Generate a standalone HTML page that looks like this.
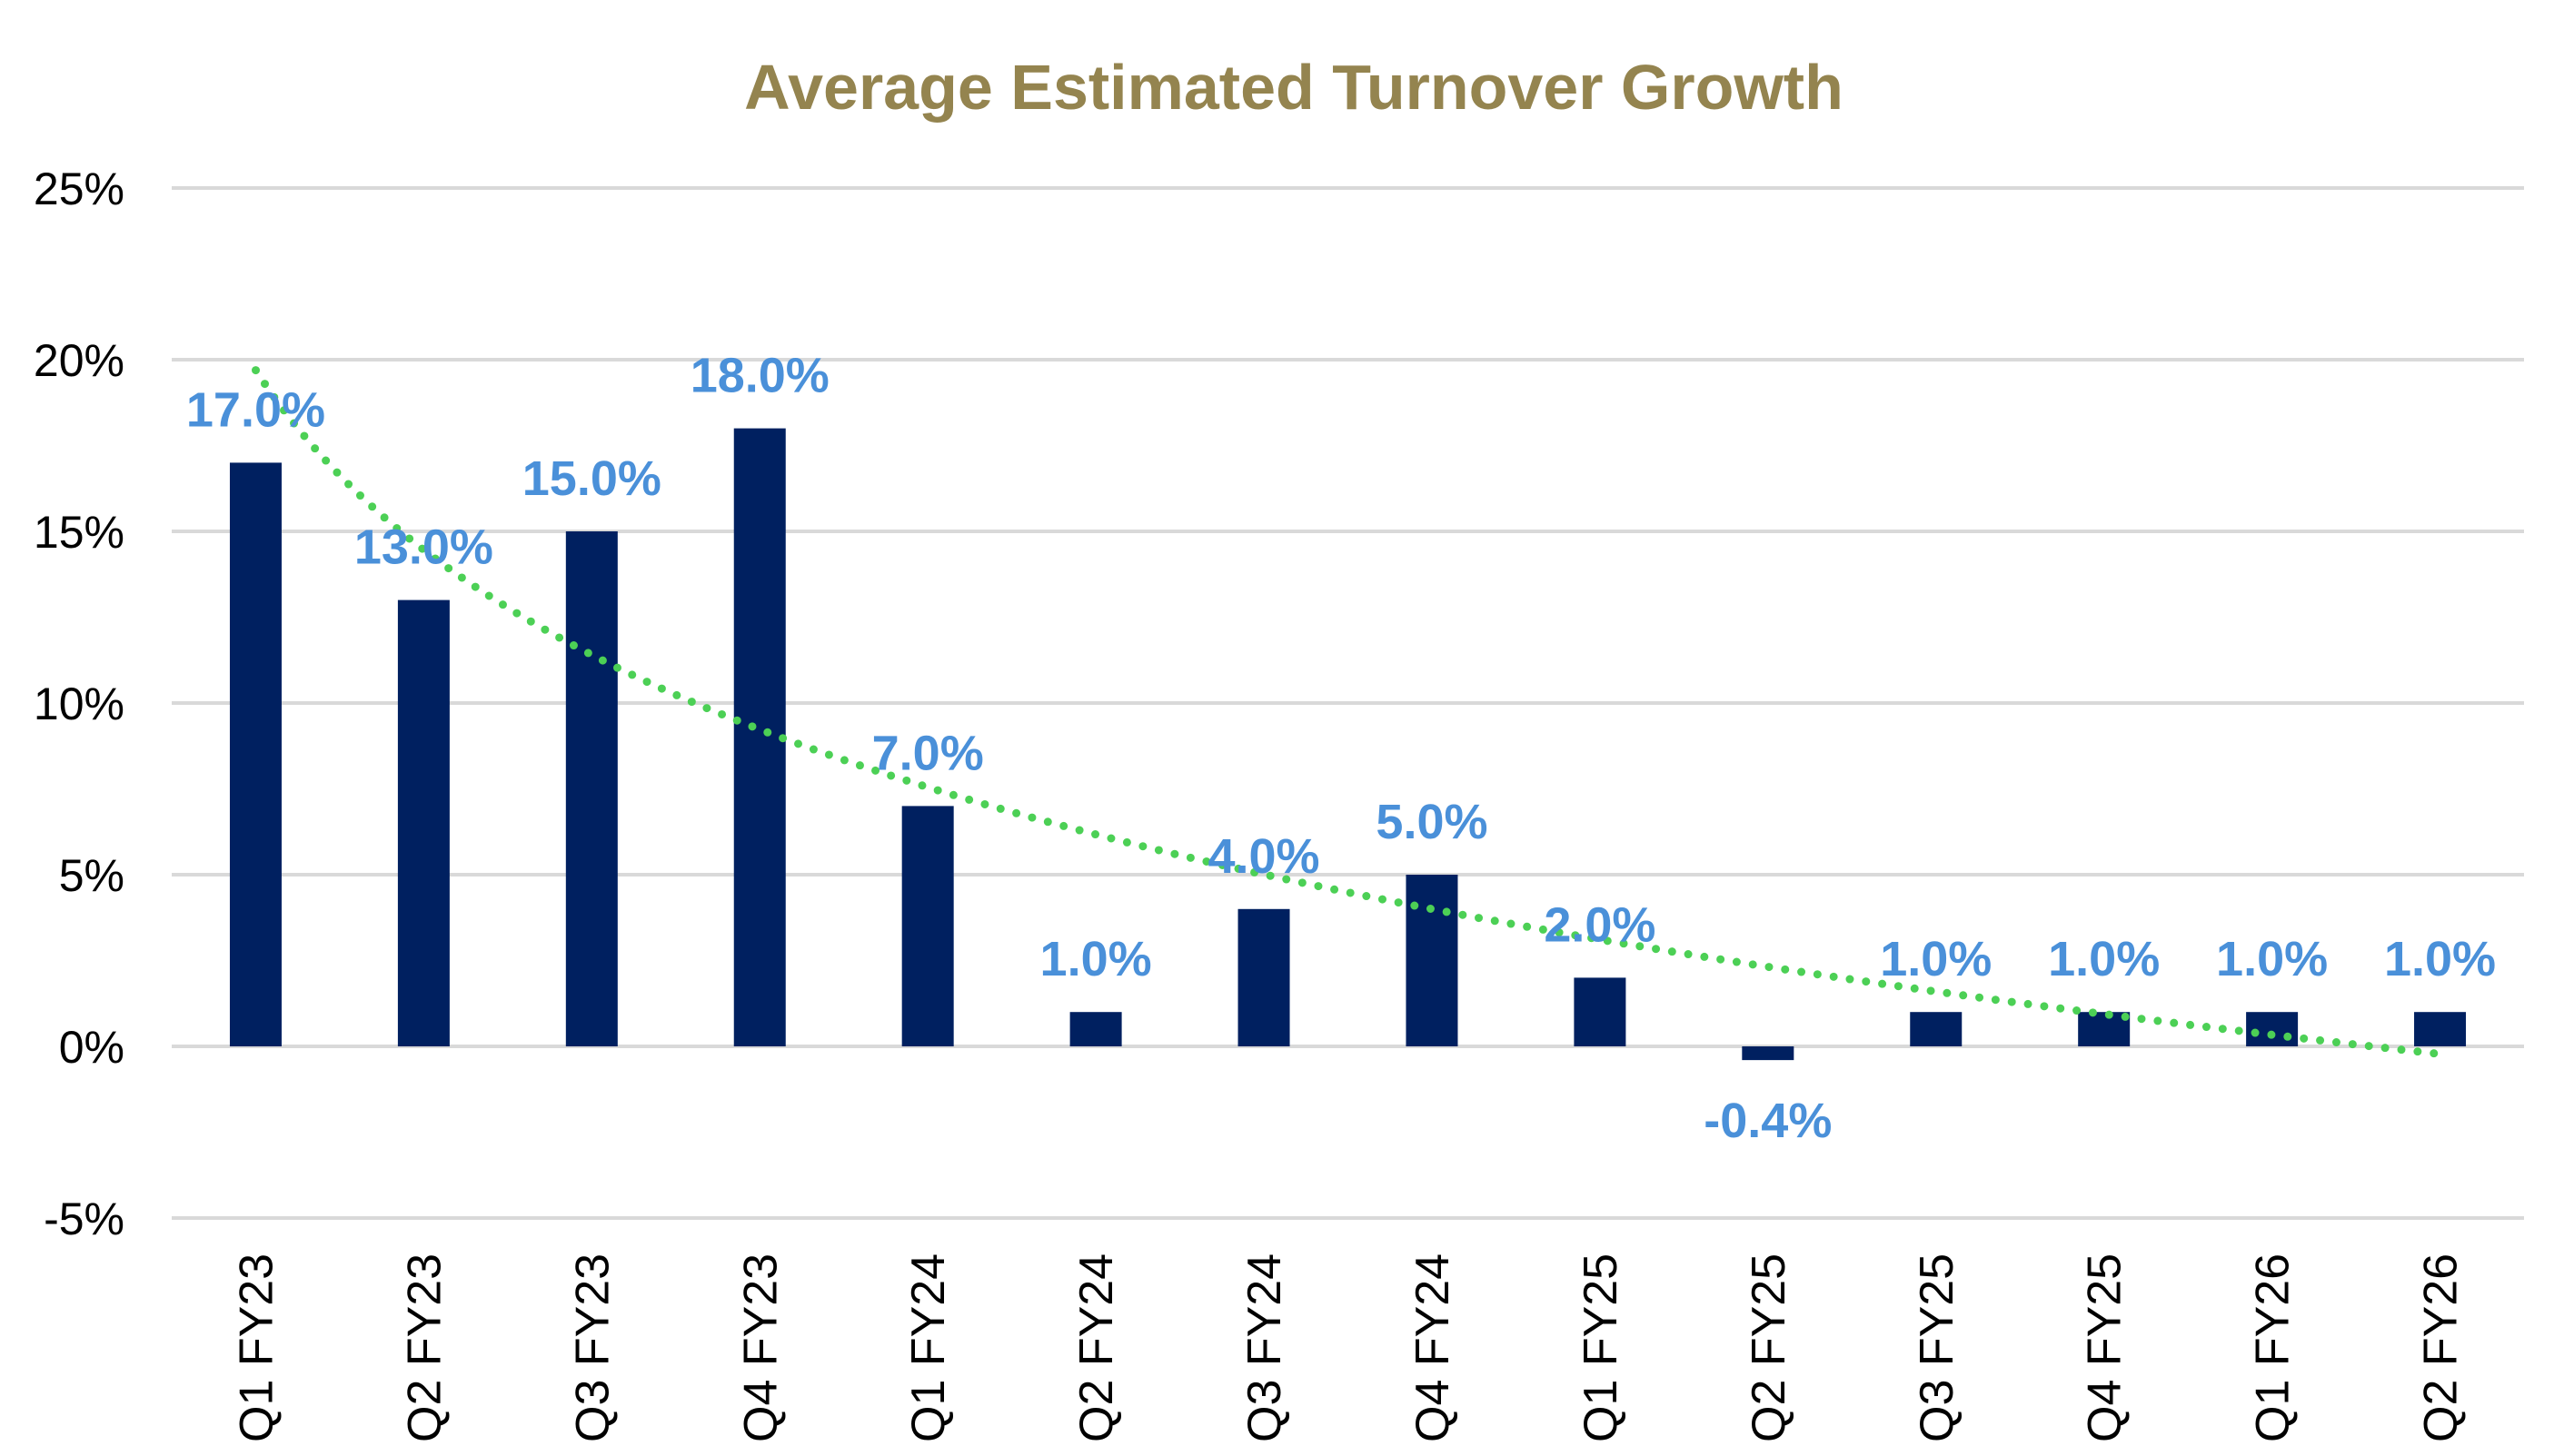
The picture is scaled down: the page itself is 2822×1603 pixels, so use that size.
<!DOCTYPE html>
<html><head><meta charset="utf-8"><style>
html,body{margin:0;padding:0;background:#fff;}
svg{display:block;}
</style></head><body>
<svg id="chart" width="2822" height="1603" viewBox="0 0 2822 1603" xmlns="http://www.w3.org/2000/svg">
<text x="1424" y="120" text-anchor="middle" font-family="Liberation Sans, sans-serif" font-weight="bold" font-size="70" fill="#94844f">Average Estimated Turnover Growth</text>
<g id="grid"></g><g id="yticks"></g><g id="bars"></g><g id="trend"></g><g id="labels"></g><g id="xlabels"></g>
</svg>
<script>
const categories = ["Q1 FY23","Q2 FY23","Q3 FY23","Q4 FY23","Q1 FY24","Q2 FY24","Q3 FY24","Q4 FY24","Q1 FY25","Q2 FY25","Q3 FY25","Q4 FY25","Q1 FY26","Q2 FY26"];
const values = [17.0,13.0,15.0,18.0,7.0,1.0,4.0,5.0,2.0,-0.4,1.0,1.0,1.0,1.0];
const yTicks = [-5,0,5,10,15,20,25];
const yTickLabels = ["-5%","0%","5%","10%","15%","20%","25%"];

const NS="http://www.w3.org/2000/svg";
const plotL=189, plotR=2778, yMin=-5, yMax=25, pxTop=207, pxBot=1341;
const step=(plotR-plotL)/categories.length, barW=57;
function y(v){return pxBot-(v-yMin)/(yMax-yMin)*(pxBot-pxTop);}
function x(i){return plotL+step*(i+0.5);}
function mk(tag,attrs,parent){const e=document.createElementNS(NS,tag);for(const k in attrs)e.setAttribute(k,attrs[k]);document.getElementById(parent).appendChild(e);return e;}

yTicks.forEach((t,i)=>{
  const g=mk('line',{x1:plotL,x2:plotR,y1:y(t),y2:y(t),stroke:'#d9d9d9','stroke-width':4},'grid');
  
  
  const l=mk('text',{x:137,y:y(t)+18,'text-anchor':'end','font-family':'Liberation Sans, sans-serif','font-size':50,fill:'#000'},'yticks');
  l.textContent=yTickLabels[i];
  
  
});

values.forEach((v,i)=>{
  const top=Math.min(y(v),y(0)), h=Math.abs(y(v)-y(0));
  const b=mk('rect',{x:x(i)-barW/2,y:top,width:barW,height:h,fill:'#002060'},'bars');
  
  
  const ly = v>=0 ? y(v)-40 : y(0)+15+85;
  const t=mk('text',{x:x(i),y:ly,'text-anchor':'middle','font-family':'Liberation Sans, sans-serif','font-weight':'bold','font-size':54,fill:'#4a90d9'},'labels');
  t.textContent=v.toFixed(1)+'%';
  
  
  const xl=mk('text',{transform:'translate('+(x(i)+18)+',1588) rotate(-90)','font-family':'Liberation Sans, sans-serif','font-size':52,fill:'#000'},'xlabels');
  xl.textContent=categories[i];
  
  
});

// logarithmic trendline fit to data
const n=values.length;let sx=0,sy=0,sxx=0,sxy=0;
values.forEach((v,i)=>{const lx=Math.log(i+1);sx+=lx;sy+=v;sxx+=lx*lx;sxy+=lx*v;});
const bb=(n*sxy-sx*sy)/(n*sxx-sx*sx), aa=(sy-bb*sx)/n;
let d='';
for(let k=0;k<=200;k++){const xi=1+(n-1)*k/200;const xp=x(xi-1);const yp=y(aa+bb*Math.log(xi));d+=(k?'L':'M')+xp.toFixed(1)+','+yp.toFixed(1);}
const tr=mk('path',{d:d,fill:'none',stroke:'#4cd055','stroke-width':9,'stroke-linecap':'round','stroke-dasharray':'0 18'},'trend');


</script>
</body></html>
